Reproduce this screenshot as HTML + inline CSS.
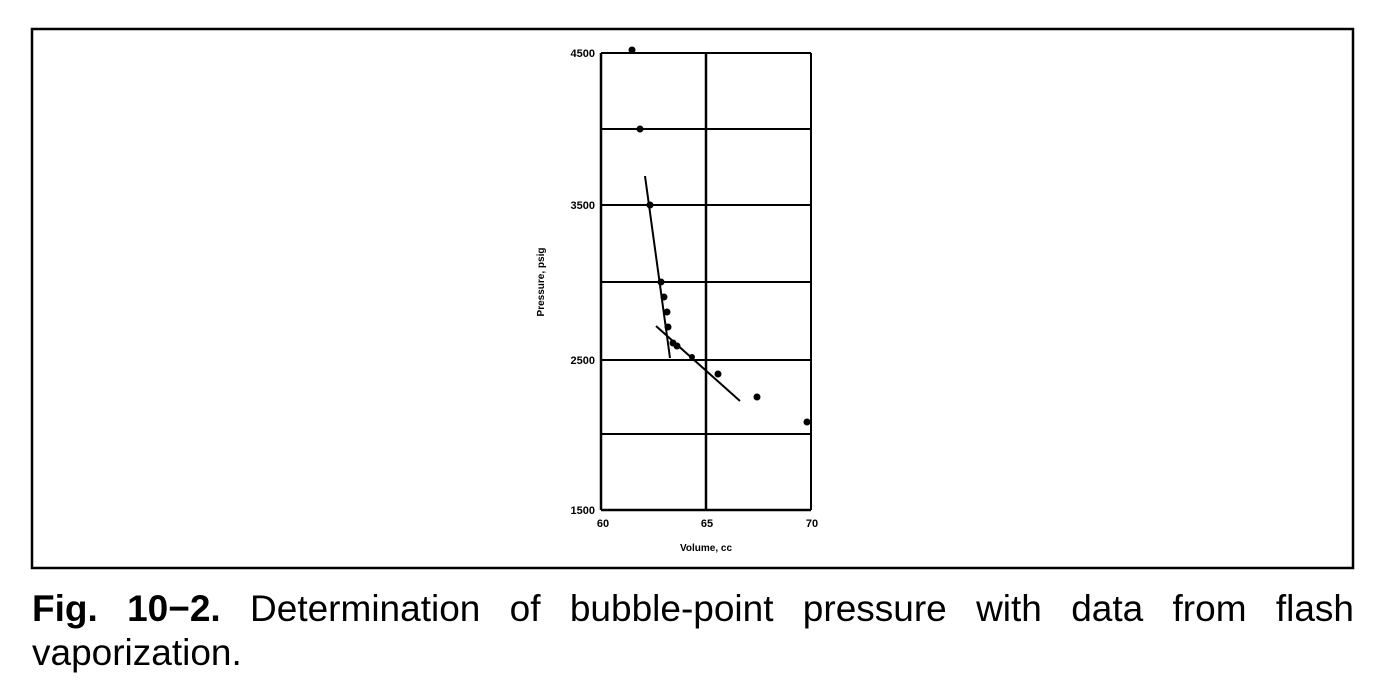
<!DOCTYPE html>
<html><head><meta charset="utf-8"><style>
html,body{margin:0;padding:0;background:#fff;}
body{width:1387px;height:696px;position:relative;overflow:hidden;font-family:"Liberation Sans",Arial,sans-serif;}
.cap{position:absolute;left:32px;top:587px;width:1322px;font-size:37px;line-height:44px;text-align:justify;text-align-last:left;color:#000;}
</style></head><body>
<svg width="1387" height="580" style="position:absolute;left:0;top:0" font-family="Liberation Sans, Arial, sans-serif">
<rect x="32" y="29" width="1321" height="539" fill="none" stroke="#000" stroke-width="2.5"/>
<g stroke="#000" stroke-width="2" fill="none">
<line x1="601" y1="53" x2="601" y2="510" stroke-width="2.5"/>
<line x1="706" y1="53" x2="706" y2="510" stroke-width="2.5"/>
<line x1="811" y1="53" x2="811" y2="510"/>
<line x1="601" y1="53" x2="811" y2="53"/>
<line x1="601" y1="129" x2="811" y2="129"/>
<line x1="601" y1="205" x2="811" y2="205"/>
<line x1="601" y1="282" x2="811" y2="282"/>
<line x1="601" y1="360" x2="811" y2="360"/>
<line x1="601" y1="434" x2="811" y2="434"/>
<line x1="601" y1="510" x2="811" y2="510" stroke-width="2.5"/>
<line x1="645" y1="176" x2="670" y2="358"/>
<line x1="656" y1="326" x2="740" y2="401"/>
</g>
<g fill="#000">
<circle cx="632" cy="50" r="3.5"/><circle cx="640" cy="129" r="3.5"/><circle cx="650" cy="205" r="3.5"/>
<circle cx="661" cy="282" r="3.5"/><circle cx="664" cy="297" r="3.5"/><circle cx="667" cy="312" r="3.5"/>
<circle cx="668" cy="327" r="3.5"/><circle cx="673" cy="343" r="3.5"/><circle cx="677" cy="346" r="3.5"/>
<circle cx="692" cy="357" r="3"/><circle cx="718" cy="374" r="3.5"/><circle cx="757" cy="397" r="3.5"/><circle cx="807" cy="422" r="3.5"/>
</g>
<g font-size="11" font-weight="bold" fill="#000" text-anchor="end">
<text x="595" y="57">4500</text><text x="595" y="209">3500</text><text x="595" y="364">2500</text><text x="595" y="514">1500</text>
</g>
<g font-size="11" font-weight="bold" fill="#000" text-anchor="middle">
<text x="603" y="527">60</text><text x="707" y="527">65</text><text x="812" y="527">70</text>
<text x="706" y="551" font-size="10">Volume, cc</text>
<text transform="translate(544,282) rotate(-90)" font-size="10">Pressure, psig</text>
</g>
</svg>
<div class="cap"><b>Fig. 10−2.</b> Determination of bubble-point pressure with data from flash vaporization.</div>
</body></html>
